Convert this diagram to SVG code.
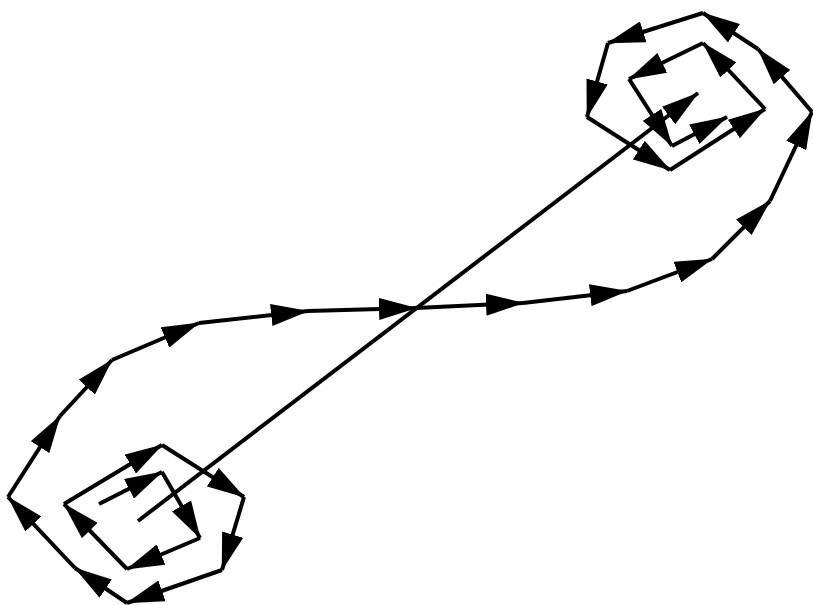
<svg xmlns="http://www.w3.org/2000/svg" width="813" height="605" viewBox="0 0 813 605">
<defs>
<style>
.a{stroke:#000;stroke-width:4;fill:none;marker-end:url(#h)}
</style>
<marker id="h" markerUnits="userSpaceOnUse" markerWidth="38" markerHeight="22" refX="37" refY="11" orient="auto">
<path d="M0,0 L38,11 L0,22 Z" fill="#000"/>
</marker>
</defs>
<rect width="813" height="605" fill="#fff"/>
<g id="connectors">
<line class="a" x1="99" y1="504" x2="162" y2="472"/>
<line class="a" x1="162" y1="472" x2="200" y2="538"/>
<line class="a" x1="200" y1="538" x2="127" y2="569"/>
<line class="a" x1="127" y1="569" x2="64" y2="504"/>
<line class="a" x1="64" y1="504" x2="162" y2="445"/>
<line class="a" x1="162" y1="445" x2="244" y2="497"/>
<line class="a" x1="244" y1="497" x2="222" y2="570"/>
<line class="a" x1="222" y1="570" x2="127" y2="603"/>
<line class="a" x1="127" y1="603" x2="75" y2="568"/>
<line class="a" x1="75" y1="568" x2="8" y2="497"/>
<line class="a" x1="8" y1="497" x2="60" y2="416"/>
<line class="a" x1="60" y1="416" x2="112" y2="360"/>
<line class="a" x1="112" y1="360" x2="199" y2="323"/>
<line class="a" x1="199" y1="323" x2="308" y2="311"/>
<line class="a" x1="308" y1="311" x2="416" y2="308"/>
<line class="a" x1="416" y1="308" x2="523" y2="303"/>
<line class="a" x1="523" y1="303" x2="627" y2="291"/>
<line class="a" x1="627" y1="291" x2="712" y2="259"/>
<line class="a" x1="712" y1="259" x2="770" y2="201"/>
<line class="a" x1="770" y1="201" x2="812" y2="112"/>
<line class="a" x1="812" y1="112" x2="758" y2="49"/>
<line class="a" x1="758" y1="49" x2="703" y2="13"/>
<line class="a" x1="703" y1="13" x2="608" y2="43"/>
<line class="a" x1="608" y1="43" x2="587" y2="117"/>
<line class="a" x1="587" y1="117" x2="670" y2="170"/>
<line class="a" x1="670" y1="170" x2="765" y2="109"/>
<line class="a" x1="765" y1="109" x2="703" y2="43"/>
<line class="a" x1="703" y1="43" x2="629" y2="79"/>
<line class="a" x1="629" y1="79" x2="672" y2="146"/>
<line class="a" x1="672" y1="146" x2="727" y2="117"/>
<line class="a" x1="138" y1="521" x2="698" y2="93"/>
</g>
</svg>
